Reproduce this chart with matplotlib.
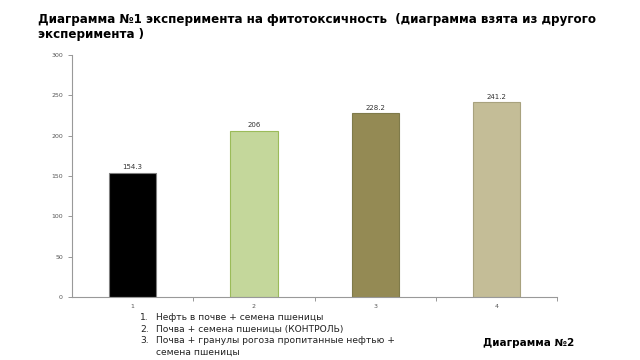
import matplotlib.pyplot as plt

categories = ["1", "2", "3", "4"]
values = [154.3, 206, 228.2, 241.2]
value_labels = ["154.3", "206", "228.2", "241.2"]
colors = ["#000000", "#c4d79b", "#948a54", "#c4bd97"]
edge_colors = ["#7f7f7f", "#9bbb59", "#7f7a4a", "#a8a27e"]
legend_items = [
    ["Нефть в почве + семена пшеницы"],
    ["Почва + семена пшеницы (КОНТРОЛЬ)"],
    ["Почва + гранулы рогоза пропитанные нефтью +", "семена пшеницы"],
]


def main():
    fig = plt.figure(figsize=(6.4, 3.6), dpi=100)
    ax = fig.add_axes([0.1125, 0.175, 0.758, 0.672])

    xs = range(1, len(values) + 1)
    ax.bar(xs, values, width=0.39, color=colors, edgecolor=edge_colors, linewidth=0.8)
    for x, v, lab in zip(xs, values, value_labels):
        ax.text(x, v + 3, lab, ha="center", va="bottom", fontsize=5, color="#333333")

    ax.set_xlim(0.5, 4.5)
    ax.set_ylim(0, 300)
    ax.set_yticks(range(0, 301, 50))
    ax.set_xticks(list(xs))
    ax.set_xticklabels(categories)
    ax.set_xticks([1.5, 2.5, 3.5, 4.5], minor=True)
    ax.tick_params(axis="x", which="major", length=0, labelsize=4.5, labelcolor="#555555", pad=5)
    ax.tick_params(axis="x", which="minor", length=3, color="#888888", width=0.6)
    ax.tick_params(axis="y", labelsize=4.5, labelcolor="#555555", length=3, color="#888888", width=0.6)
    for side in ["top", "right"]:
        ax.spines[side].set_visible(False)
    for side in ["left", "bottom"]:
        ax.spines[side].set_color("#999999")
        ax.spines[side].set_linewidth(0.8)

    fig.text(0.059, 0.945, "Диаграмма №1 эксперимента на фитотоксичность  (диаграмма взята из другого",
             fontsize=8.6, fontweight="bold", va="center", ha="left")
    fig.text(0.059, 0.903, "эксперимента )",
             fontsize=8.6, fontweight="bold", va="center", ha="left")

    # numbered list under the chart
    y = 0.117
    for i, lines in enumerate(legend_items):
        fig.text(0.219, y, f"{i + 1}.", fontsize=6.6, va="center", ha="left", color="#222222")
        for line in lines:
            fig.text(0.243, y, line, fontsize=6.6, va="center", ha="left", color="#222222")
            y -= 0.032

    fig.text(0.755, 0.047, "Диаграмма №2", fontsize=7.5, fontweight="bold", ha="left", va="center")

    fig.savefig("out.png", dpi=100)


if __name__ == "__main__":
    main()
